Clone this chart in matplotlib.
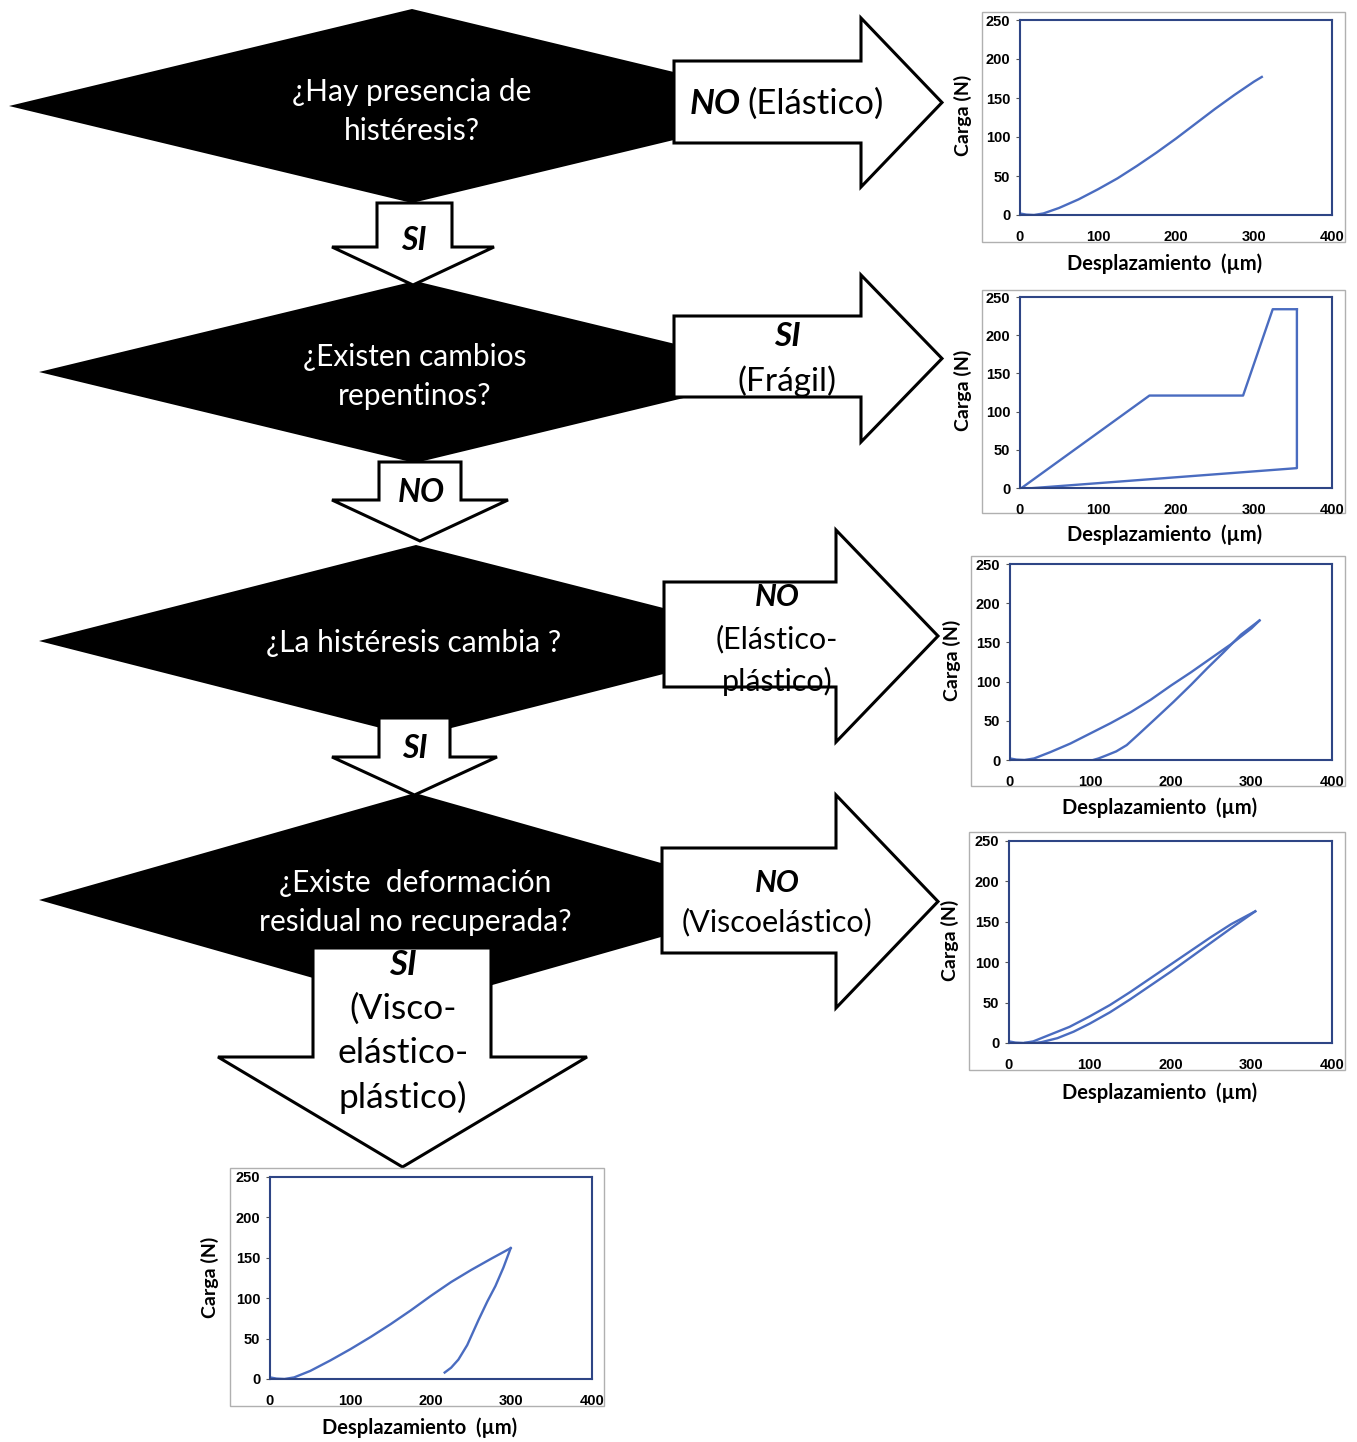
import numpy as np
import matplotlib.pyplot as plt
from matplotlib.patches import Polygon, Rectangle

W, H = 1357, 1442

# curvas carga-desplazamiento
elastico_x = [0, 8, 18, 30, 50, 75, 100, 125, 150, 175, 200, 225, 250, 275, 300, 310]
elastico_y = [2, 0.5, 0, 2, 9, 20, 33, 47, 63, 80, 98, 117, 136, 154, 171, 177]

fragil_carga_x = [2, 166, 286, 324, 355]
fragil_carga_y = [0, 121, 121, 234, 234]
fragil_descarga_x = [355, 355, 5]
fragil_descarga_y = [234, 26, -1]

ep_carga_x = [0, 8, 18, 30, 50, 75, 100, 125, 150, 175, 200, 225, 250, 275, 300, 310]
ep_carga_y = [2, 0.5, 0, 2, 10, 21, 34, 47, 61, 77, 95, 112, 130, 148, 168, 178]
ep_descarga_x = [310, 287, 265, 245, 225, 203, 180, 160, 145, 132, 120, 110, 100]
ep_descarga_y = [178, 160, 137, 117, 96, 74, 52, 33, 19, 11, 6, 2, -1]

ve_carga_x = [0, 8, 18, 30, 50, 75, 100, 125, 150, 175, 200, 225, 250, 275, 305]
ve_carga_y = [2, 0.5, 0, 2, 10, 20, 33, 47, 63, 80, 97, 114, 131, 147, 163]
ve_descarga_x = [305, 275, 250, 225, 200, 175, 150, 125, 100, 80, 60, 40, 30, 20]
ve_descarga_y = [163, 142, 124, 106, 88, 71, 54, 38, 24, 14, 6, 1, 0, 0]

vep_carga_x = [0, 8, 18, 30, 50, 75, 100, 125, 150, 175, 200, 225, 250, 275, 299]
vep_carga_y = [2, 0.5, 0, 2, 10, 23, 37, 52, 68, 85, 103, 120, 135, 149, 162]
vep_descarga_x = [299, 290, 280, 270, 259, 245, 234, 225, 217]
vep_descarga_y = [162, 138, 115, 96, 73, 42, 24, 14, 8]

xticks = [0, 100, 200, 300, 400]
yticks = [0, 50, 100, 150, 200, 250]

FONT = ['Lato', 'DejaVu Sans']
AXFONT = ['Liberation Sans', 'DejaVu Sans']
LINE = '#4a6cc0'
FRAME = '#2e4585'

fig = plt.figure(figsize=(13.57, 14.42), dpi=100)
base = fig.add_axes([0, 0, 1, 1])
base.set_xlim(0, W)
base.set_ylim(H, 0)
base.axis('off')


def diamond(cx, cy, hw, hh):
    pts = [(cx - hw, cy), (cx, cy - hh), (cx + hw, cy), (cx, cy + hh)]
    base.add_patch(Polygon(pts, closed=True, fc='black', ec='none', zorder=1))


def right_arrow(bx0, bx1, by0, by1, hy0, hy1, tip):
    pts = [(bx0, by0), (bx1, by0), (bx1, hy0), (tip, (hy0 + hy1) / 2),
           (bx1, hy1), (bx1, by1), (bx0, by1)]
    base.add_patch(Polygon(pts, closed=True, fc='white', ec='black', lw=2.2, zorder=2))


def down_arrow(bx0, bx1, by0, by1, hx0, hx1, tip):
    pts = [(bx0, by0), (bx1, by0), (bx1, by1), (hx1, by1), ((hx0 + hx1) / 2, tip),
           (hx0, by1), (bx0, by1)]
    base.add_patch(Polygon(pts, closed=True, fc='white', ec='black', lw=2.2, zorder=2))


def txt(x, y, s, size=21.5, color='black', bold=False, italic=False, ha='center'):
    base.text(x, y, s, fontsize=size, color=color, ha=ha, va='center', family=FONT,
              fontweight='bold' if bold else 'normal',
              fontstyle='italic' if italic else 'normal', zorder=5)


# rombos
diamond(412, 106, 403, 97)
diamond(415, 372, 376, 91)
diamond(416, 641, 377, 96)
diamond(415, 900, 376, 107)

# flechas
right_arrow(674, 861, 61, 143, 18, 187, 942)
right_arrow(674, 861, 316, 397, 275, 442, 942)
right_arrow(664, 836, 582, 687, 530, 742, 938)
right_arrow(662, 836, 848, 953, 795, 1008, 938)

down_arrow(377, 452, 203, 247, 332, 494, 285)
down_arrow(379, 461, 462, 500, 332, 508, 541)
down_arrow(379, 450, 718, 757, 332, 497, 795)
down_arrow(313, 491, 948, 1057, 218, 587, 1167)

# textos
txt(412, 92, '¿Hay presencia de', color='white')
txt(412, 131, 'histéresis?', color='white')
txt(741, 104, 'NO', size=25, bold=True, italic=True, ha='right')
txt(747, 104, '(Elástico)', size=25, ha='left')
txt(414, 240, 'SI', size=23, bold=True, italic=True)

txt(415, 357, '¿Existen cambios', color='white')
txt(415, 396, 'repentinos?', color='white')
txt(787, 337, 'SI', size=24, bold=True, italic=True)
txt(787, 381, '(Frágil)', size=24)
txt(421, 493, 'NO', size=23, bold=True, italic=True)

txt(414, 643, '¿La histéresis cambia ?', color='white')
txt(777, 597, 'NO', size=22, bold=True, italic=True)
txt(777, 639, '(Elástico-', size=22)
txt(777, 681, 'plástico)', size=22)
txt(415, 748, 'SI', size=23, bold=True, italic=True)

txt(415, 883, '¿Existe  deformación', color='white')
txt(415, 922, 'residual no recuperada?', color='white')
txt(777, 883, 'NO', size=22, bold=True, italic=True)
txt(777, 922, '(Viscoelástico)', size=22)
txt(403, 965, 'SI', size=25, bold=True, italic=True)
txt(403, 1009, '(Visco-', size=25.5)
txt(403, 1053, 'elástico-', size=25.5)
txt(403, 1097, 'plástico)', size=25.5)


def chart(plot_px, box_px, xlab_px, ylab_px, curves):
    x0, x1, yt, yb = plot_px
    bx0, by0, bx1, by1 = box_px
    base.add_patch(Rectangle((bx0, by0), bx1 - bx0, by1 - by0, fc='white',
                             ec='#b0b0b0', lw=1.0, zorder=3))
    ax = fig.add_axes([x0 / W, 1 - yb / H, (x1 - x0) / W, (yb - yt) / H])
    for cx, cy in curves:
        ax.plot(cx, cy, color=LINE, lw=1.7, solid_joinstyle='round')
    ax.set_xlim(0, 400)
    ax.set_ylim(0, 250)
    ax.set_xticks(xticks)
    ax.set_yticks(yticks)
    for sp in ax.spines.values():
        sp.set_color(FRAME)
        sp.set_linewidth(1.5)
    ax.tick_params(axis='x', length=0, pad=11)
    ax.tick_params(axis='y', length=3, width=0.8, color='#555555', pad=4)
    for lab in ax.get_xticklabels() + ax.get_yticklabels():
        lab.set_fontsize(10.5)
        lab.set_fontweight('bold')
        lab.set_family(AXFONT)
    ax.set_xlabel('Desplazamiento  (µm)', fontsize=14.5, fontweight='bold',
                  family=FONT, va='center')
    ax.xaxis.set_label_coords((xlab_px[0] - x0) / (x1 - x0), (yb - xlab_px[1]) / (yb - yt))
    ax.set_ylabel('Carga (N)', fontsize=14, fontweight='bold', family=FONT, va='center')
    ax.yaxis.set_label_coords((ylab_px[0] - x0) / (x1 - x0), (yb - ylab_px[1]) / (yb - yt))
    return ax


chart((1020, 1332, 20, 215), (982, 12, 1345, 242), (1165, 264), (963, 115),
      [(elastico_x, elastico_y)])
chart((1020, 1332, 297, 488), (982, 290, 1345, 513), (1165, 535), (963, 390),
      [(fragil_carga_x, fragil_carga_y), (fragil_descarga_x, fragil_descarga_y)])
chart((1010, 1332, 564, 760), (971, 556, 1345, 786), (1160, 808), (952, 660),
      [(ep_carga_x, ep_carga_y), (ep_descarga_x, ep_descarga_y)])
chart((1009, 1332, 841, 1043), (969, 832, 1345, 1070), (1160, 1093), (950, 940),
      [(ve_carga_x, ve_carga_y), (ve_descarga_x, ve_descarga_y)])
chart((270, 592, 1177, 1379), (230, 1168, 604, 1406), (420, 1428), (210, 1277),
      [(vep_carga_x, vep_carga_y), (vep_descarga_x, vep_descarga_y)])

fig.savefig('out.png', dpi=100)
